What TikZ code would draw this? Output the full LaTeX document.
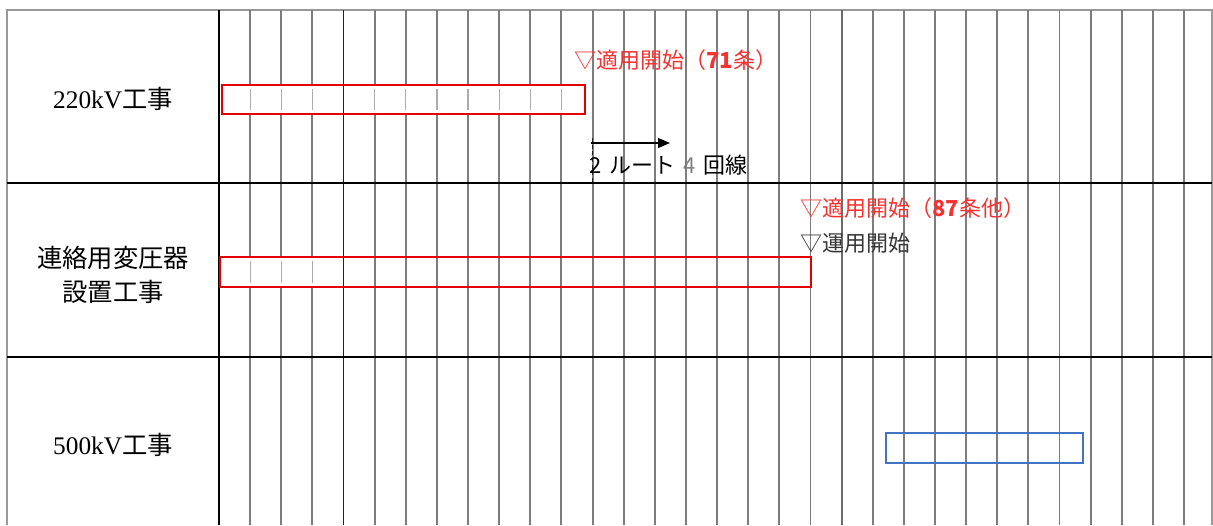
\documentclass[tikz,border=0pt]{standalone}
\usepackage{fontspec}
\setmainfont{Liberation Serif}
\newfontfamily\jp{Noto Sans CJK JP}
\usetikzlibrary{arrows.meta}
\definecolor{barred}{RGB}{228,0,0}
\definecolor{txtred}{RGB}{245,50,50}
\definecolor{barblue}{RGB}{68,114,196}
\definecolor{gridgray}{RGB}{125,125,125}
\definecolor{darkline}{RGB}{35,35,35}
\definecolor{txtdark}{RGB}{55,55,55}
\tikzset{
  gridline/.style={draw=gridgray, line width=1.45pt},
  darkgrid/.style={draw=darkline, line width=1.45pt},
  framegray/.style={draw=gray!80, line width=0.9pt},
  divider/.style={draw=black, line width=1.6pt},
  tickline/.style={draw=gray!65, line width=0.9pt},
  redbar/.style={draw=barred, line width=2.2pt, inner sep=0pt},
  bluebar/.style={draw=barblue, line width=1.6pt, inner sep=0pt},
  rowlabel/.style={font=\fontsize{19}{25.5}\selectfont, align=center, inner sep=0pt},
  note/.style={font=\jp\fontsize{16.5}{20}\selectfont, anchor=west, inner sep=0pt},
}
\begin{document}
\begin{tikzpicture}[x=0.75pt,y=-0.75pt]
\useasboundingbox (0,0) rectangle (1213,525);
% frame
\draw[framegray] (7,525) -- (7,10) -- (1212,10) -- (1212,525);
% grid lines
\foreach \k in {1,...,31} {
  \draw[gridline] ({219+\k*31.13},10) -- ({219+\k*31.13},525);
}
\draw[darkgrid] ({219+4*31.13},10) -- ({219+4*31.13},525);
\draw[draw=gray!85!black, line width=1.45pt] ({219+20*31.13},10) -- ({219+20*31.13},525);
% row dividers and label column
\draw[divider] (7,183) -- (1212,183);
\draw[divider] (7,357) -- (1212,357);
\draw[divider] (219,10) -- (219,525);

% row labels
\node[rowlabel] (r1) at (113,99) {220kV{\jp 工事}};
\node[rowlabel, font=\jp\fontsize{19}{25.5}\selectfont] (r2) at (113,275) {連絡用変圧器\\設置工事};
\node[rowlabel] (r3) at (113,445) {500kV{\jp 工事}};

% bar 1 (220kV)
\node[redbar, fill=white, minimum width=272.25pt, minimum height=21.75pt] (bar1) at (403.5,99.5) {};
\foreach \k in {1,2,3,5,6,7,8,9,10,11} {
  \draw[tickline] ({219+\k*31.13},89) -- ({219+\k*31.13},110);
}
% bar 2 (transformer)
\fill[white] (221,258) rectangle (343,286);
\foreach \k in {1,2,3} {
  \draw[tickline] ({219+\k*31.13},261) -- ({219+\k*31.13},283);
}
\node[redbar, minimum width=443.25pt, minimum height=22.5pt] (bar2) at (515.5,272) {};
% dark line through bars
\draw[darkgrid] ({219+4*31.13},84) -- ({219+4*31.13},115);
\draw[darkgrid] ({219+4*31.13},256) -- ({219+4*31.13},288);
% bar 3 (500kV)
\node[bluebar, minimum width=147.75pt, minimum height=22.5pt] (bar3) at (984.5,448) {};

% notes
\node[note, text=txtred] (n1) at (574,60) {▽適用開始（{\bfseries 71}条）};
\draw[draw=darkline, line width=1pt, dash pattern=on 3pt off 2pt] (592.6,138) -- (592.6,183);
\coordinate (arrS) at (591,143);
\coordinate (arrE) at (670,143);
\draw[line width=0.8pt, -{Triangle[length=9pt,width=7.5pt]}] (arrS) -- (arrE);
\node[note, text=black] (n2) at (589,165) {2\hspace{6pt}ルート\hspace{6pt}{\color{gray}4}\hspace{6pt}回線};
\node[note, text=txtred] (n3) at (800,208) {▽適用開始（{\bfseries 87}条他）};
\node[note, text=txtdark] (n4) at (800,243) {▽運用開始};
\end{tikzpicture}
\end{document}
